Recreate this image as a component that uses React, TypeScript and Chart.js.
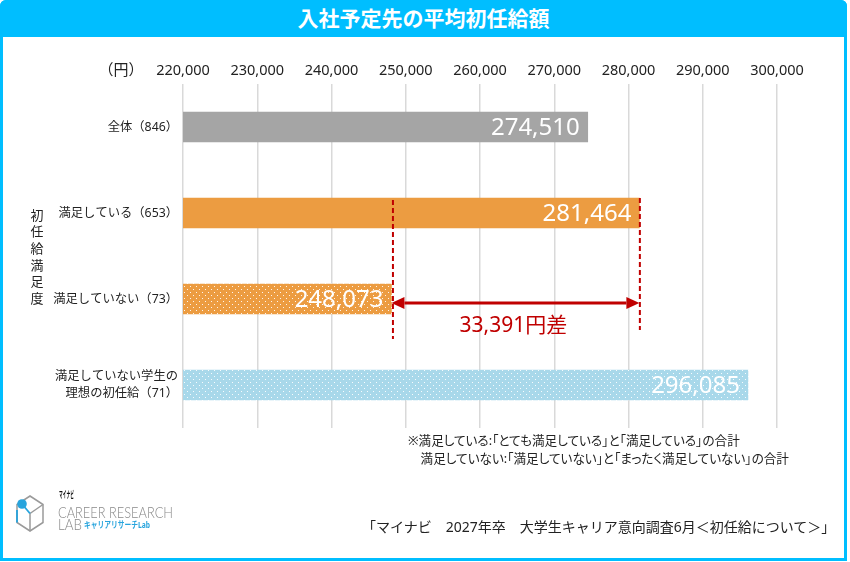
import React, { useEffect, useRef } from "react";
import { Chart, registerables } from "chart.js";

Chart.register(...registerables);

// ---- data ----
const categories: string[][] = [
  ["全体（846）"],
  ["満足している（653）"],
  ["満足していない（73）"],
  ["満足していない学生の", "理想の初任給（71）"],
];
const salaries: number[] = [274510, 281464, 248073, 296085];
const xTickValues: number[] = [220000, 230000, 240000, 250000, 260000, 270000, 280000, 290000, 300000];
const axisMin = 220000;
const axisMax = 300000;
const axisTitleChars: string[] = ["初", "任", "給", "満", "足", "度"];
const unitLabel = "（円）";
const diffHighIndex = 1;
const diffLowIndex = 2;
const titleText = "入社予定先の平均初任給額";
const noteLines: string[] = [
  "※満足している:「とても満足している」と「満足している」の合計",
  "　満足していない:「満足していない」と「まったく満足していない」の合計",
];
const sourceText = "「マイナビ　2027年卒　大学生キャリア意向調査6月＜初任給について＞」";

const FONT = '"Noto Sans", "Noto Sans CJK JP", sans-serif';
const BLUE = "#00BEFF";
const RED = "#C00000";

function fmt(v: number): string {
  return v.toString().replace(/\B(?=(\d{3})+(?!\d))/g, ",");
}

function dotPattern(base: string): CanvasPattern | string {
  const c = document.createElement("canvas");
  c.width = 6;
  c.height = 6;
  const g = c.getContext("2d");
  if (!g) return base;
  g.fillStyle = base;
  g.fillRect(0, 0, 6, 6);
  g.fillStyle = "rgba(255,255,255,0.9)";
  g.fillRect(1, 1, 1, 1);
  g.fillRect(4, 4, 1, 1);
  return g.createPattern(c, "repeat") || base;
}

const overlayPlugin = {
  id: "overlay",
  afterDatasetsDraw(chart: any) {
    const ctx: CanvasRenderingContext2D = chart.ctx;
    const meta = chart.getDatasetMeta(0);
    const xs = chart.scales.x;
    const ys = chart.scales.y;
    ctx.save();
    // value labels
    ctx.font = `24px ${FONT}`;
    ctx.fillStyle = "#FFFFFF";
    ctx.textAlign = "right";
    ctx.textBaseline = "middle";
    meta.data.forEach((bar: any, i: number) => {
      ctx.fillText(fmt(salaries[i]), bar.x - 8, bar.y + 1);
    });

    // difference annotation
    const xLow = xs.getPixelForValue(salaries[diffLowIndex]);
    const xHigh = xs.getPixelForValue(salaries[diffHighIndex]);
    const yHigh = ys.getPixelForValue(diffHighIndex);
    const yLow = ys.getPixelForValue(diffLowIndex);
    ctx.strokeStyle = RED;
    ctx.lineWidth = 2;
    ctx.setLineDash([5, 3]);
    ctx.beginPath();
    ctx.moveTo(xLow + 1.5, yHigh - 13);
    ctx.lineTo(xLow + 1.5, yLow + 40);
    ctx.moveTo(xHigh + 0.5, yHigh - 15);
    ctx.lineTo(xHigh + 0.5, yLow + 31);
    ctx.stroke();
    ctx.setLineDash([]);

    const ay = yLow + 4;
    const head = 13;
    const hw = 6;
    ctx.lineWidth = 3;
    ctx.beginPath();
    ctx.moveTo(xLow + head, ay);
    ctx.lineTo(xHigh - head, ay);
    ctx.stroke();
    ctx.fillStyle = RED;
    ctx.beginPath();
    ctx.moveTo(xLow, ay);
    ctx.lineTo(xLow + head, ay - hw);
    ctx.lineTo(xLow + head, ay + hw);
    ctx.closePath();
    ctx.fill();
    ctx.beginPath();
    ctx.moveTo(xHigh, ay);
    ctx.lineTo(xHigh - head, ay - hw);
    ctx.lineTo(xHigh - head, ay + hw);
    ctx.closePath();
    ctx.fill();

    ctx.font = `21px ${FONT}`;
    ctx.textAlign = "center";
    ctx.textBaseline = "middle";
    const diff = salaries[diffHighIndex] - salaries[diffLowIndex];
    ctx.fillText(`${fmt(diff)}円差`, (xLow + xHigh) / 2 - 2, yLow + 27);

    // unit label
    ctx.fillStyle = "#222222";
    ctx.font = `15px ${FONT}`;
    ctx.fillText(unitLabel, 121, 71);

    // vertical axis title
    ctx.font = `13px ${FONT}`;
    axisTitleChars.forEach((ch, i) => {
      ctx.fillText(ch, 37, 216 + i * 16.6);
    });
    ctx.restore();
  },
};

function ChartCanvas() {
  const ref = useRef<HTMLCanvasElement | null>(null);
  useEffect(() => {
    if (!ref.current) return;
    const colors = [
      "#A5A5A5",
      "#EC9C41",
      dotPattern("#EC9C41"),
      dotPattern("#A8D8EA"),
    ];
    const chart = new Chart(ref.current, {
      type: "bar",
      data: {
        labels: categories as any,
        datasets: [
          {
            data: salaries,
            backgroundColor: colors as any,
            borderWidth: 0,
            barThickness: 30,
          },
        ],
      },
      plugins: [overlayPlugin],
      options: {
        animation: false,
        responsive: false,
        indexAxis: "y",
        layout: { padding: { left: 0, right: 73, top: 0, bottom: 134 } },
        plugins: { legend: { display: false }, tooltip: { enabled: false } },
        scales: {
          x: {
            type: "linear",
            position: "top",
            min: axisMin,
            max: axisMax,
            afterBuildTicks: (s: any) => {
              s.ticks = xTickValues.map((v) => ({ value: v }));
            },
            ticks: {
              padding: 4,
              color: "#222222",
              font: { size: 14.5, family: FONT },
              callback: (v: any) => fmt(Number(v)),
            },
            grid: { color: "#D9D9D9", lineWidth: 1.5, drawTicks: false },
            border: { display: false },
            afterFit: (s: any) => {
              s.height = 84;
            },
          },
          y: {
            type: "category",
            grid: { display: false, drawTicks: false },
            border: { display: false },
            ticks: {
              padding: 5,
              color: "#222222",
              font: { size: 12.3, family: FONT, lineHeight: 1.32 },
            },
            afterFit: (s: any) => {
              s.width = 183;
            },
          },
        },
      } as any,
    });
    return () => chart.destroy();
  }, []);
  return (
    <canvas
      ref={ref}
      width={850}
      height={562}
      style={{ position: "absolute", left: 0, top: 0, width: 850, height: 562 }}
    />
  );
}

function Logo() {
  const cx = 30;
  const cy = 33.5;
  return (
    <svg
      width={200}
      height={80}
      style={{ position: "absolute", left: 0, top: 480 }}
    >
      <polygon
        points={`30,16 43,24.5 43,42.5 30,51 17,42.5 17,24.5`}
        fill="none"
        stroke="#9A9A9A"
        strokeWidth={1.5}
      />
      <line x1={cx} y1={cy} x2={43} y2={24.5} stroke="#9A9A9A" strokeWidth={1.5} />
      <line x1={cx} y1={cy} x2={30} y2={51} stroke="#9A9A9A" strokeWidth={1.5} />
      <line x1={22} y1={24} x2={cx} y2={cy} stroke="#27A4DD" strokeWidth={1.8} />
      <line x1={17} y1={30} x2={17} y2={42.5} stroke="#27A4DD" strokeWidth={1.8} />
      <circle cx={22} cy={24} r={4.8} fill="#27A4DD" />
      <text x={59} y={18} fontSize={9.5} fontWeight={700} fill="#111" fontFamily={FONT} textLength={15} lengthAdjust="spacingAndGlyphs">
        マイナビ
      </text>
      <text x={58} y={37.5} fontSize={15} fontWeight={300} fill="#8A8A8A" fontFamily="Lato, sans-serif" textLength={115} lengthAdjust="spacingAndGlyphs">
        CAREER RESEARCH
      </text>
      <text x={58} y={50} fontSize={15} fontWeight={300} fill="#8A8A8A" fontFamily="Lato, sans-serif" textLength={24} lengthAdjust="spacingAndGlyphs">
        LAB
      </text>
      <text x={84} y={48} fontSize={9} fontWeight={700} fill="#27A4DD" fontFamily={FONT} textLength={66} lengthAdjust="spacingAndGlyphs">
        キャリアリサーチLab
      </text>
    </svg>
  );
}

export default function App() {
  return (
    <div
      style={{
        position: "absolute",
        left: 0,
        top: 0,
        width: 850,
        height: 562,
        background: "#FFFFFF",
        fontFamily: FONT,
        overflow: "hidden",
      }}
    >
      <div
        style={{
          position: "absolute",
          left: 0,
          top: 0,
          width: 847,
          height: 561,
          boxSizing: "border-box",
          border: `3px solid ${BLUE}`,
          borderRadius: "6px 6px 0 0",
        }}
      />
      <div
        style={{
          position: "absolute",
          left: 0,
          top: 0,
          width: 847,
          height: 37,
          background: BLUE,
          borderRadius: "6px 6px 0 0",
          color: "#FFFFFF",
          fontWeight: 700,
          fontSize: 21,
          lineHeight: "37px",
          textAlign: "center",
        }}
      >
        {titleText}
      </div>
      <ChartCanvas />
      <div
        style={{
          position: "absolute",
          left: 408,
          top: 432,
          fontSize: 12.6,
          lineHeight: "18px",
          color: "#222222",
          whiteSpace: "pre",
          fontFeatureSettings: '"palt"',
        }}
      >
        {noteLines.join("\n")}
      </div>
      <div
        style={{
          position: "absolute",
          left: 362,
          top: 517,
          fontSize: 14,
          lineHeight: "20px",
          color: "#222222",
          whiteSpace: "pre",
        }}
      >
        {sourceText}
      </div>
      <Logo />
    </div>
  );
}
